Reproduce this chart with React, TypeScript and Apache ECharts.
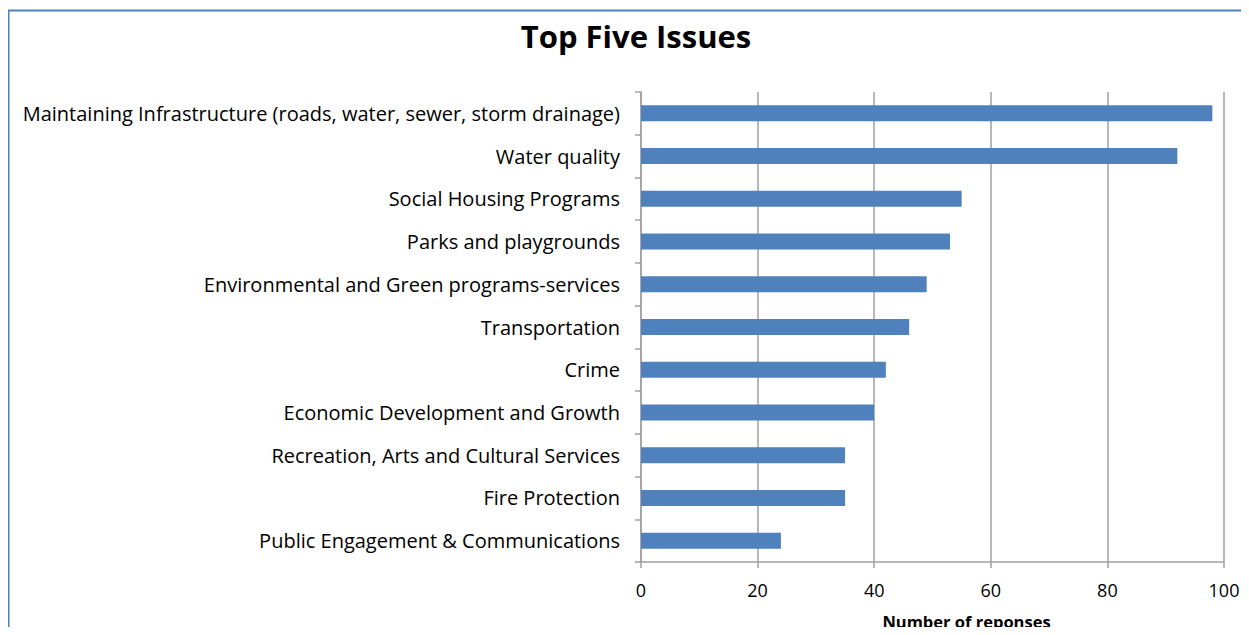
import React, { useEffect, useRef } from "react";
import * as echarts from "echarts";

const categories = [
  "Maintaining Infrastructure (roads, water, sewer, storm drainage)",
  "Water quality",
  "Social Housing Programs",
  "Parks and playgrounds",
  "Environmental and Green programs-services",
  "Transportation",
  "Crime",
  "Economic Development and Growth",
  "Recreation, Arts and Cultural Services",
  "Fire Protection",
  "Public Engagement & Communications",
];
const values = [98, 92, 55, 53, 49, 46, 42, 40, 35, 35, 24];
const xTicks = { min: 0, max: 100, interval: 20 };

const FONT = "Open Sans";

export default function App() {
  const ref = useRef<HTMLDivElement>(null);
  useEffect(() => {
    if (!ref.current) return;
    const chart = echarts.init(ref.current, null, { renderer: "svg" });
    chart.setOption({
      animation: false,
      backgroundColor: "#ffffff",
      title: {
        text: "Top Five Issues",
        left: 623,
        top: 7,
        textAlign: "center",
        textStyle: { fontFamily: FONT, fontSize: 31, fontWeight: "bold", color: "#000" },
      },
      graphic: [
        {
          type: "rect",
          shape: { x: 0.5, y: 2.5, width: 1400, height: 800 },
          style: { fill: "none", stroke: "#4f81bd", lineWidth: 2 },
          silent: true,
        },
      ],
      grid: { left: 633, right: 17, top: 84, bottom: 73, outerBoundsMode: "none", containLabel: false },
      xAxis: {
        type: "value",
        min: xTicks.min,
        max: xTicks.max,
        interval: xTicks.interval,
        name: "Number of reponses",
        nameLocation: "middle",
        nameGap: 51,
        nameTextStyle: {
          fontFamily: FONT,
          fontSize: 16.5,
          fontWeight: "bold",
          color: "#000",
          padding: [0, 0, 0, 68],
        },
        axisLine: { show: true, lineStyle: { color: "#a0a0a0", width: 1.5 } },
        axisTick: { show: true, length: 6, lineStyle: { color: "#a0a0a0", width: 1.5 } },
        axisLabel: { fontFamily: FONT, fontSize: 18, color: "#000", margin: 19 },
        splitLine: { show: true, lineStyle: { color: "#a0a0a0", width: 1.5 } },
      },
      yAxis: {
        type: "category",
        data: categories,
        inverse: true,
        axisLine: { show: true, lineStyle: { color: "#a0a0a0", width: 1.5 } },
        axisTick: { show: true, length: 6, alignWithLabel: false, lineStyle: { color: "#a0a0a0", width: 1.5 } },
        axisLabel: { fontFamily: FONT, fontSize: 20, color: "#000", margin: 21 },
        splitLine: { show: false },
      },
      series: [
        {
          type: "bar",
          data: values,
          barWidth: 16,
          itemStyle: { color: "#4f81bd" },
        },
      ],
    });
    return () => chart.dispose();
  }, []);
  return <div ref={ref} style={{ width: 1233, height: 627, marginBottom: -8 }} />;
}
